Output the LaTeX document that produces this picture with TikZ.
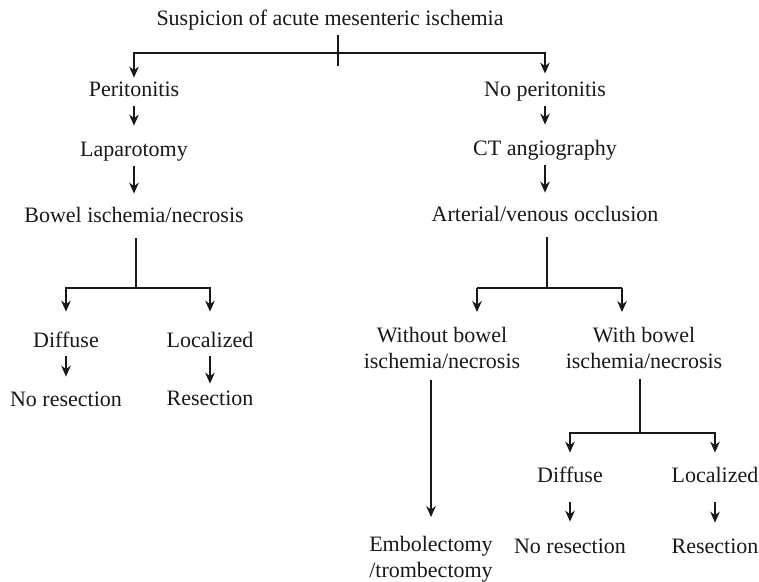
\documentclass[tikz,border=0pt]{standalone}
\usepackage{fontspec}
\setmainfont{Liberation Serif}
\usetikzlibrary{arrows.meta}

\begin{document}
\begin{tikzpicture}
        [x=0.5pt,y=-0.5pt,
        every node/.style={inner sep=2pt,font=\fontsize{11}{13}\selectfont,text=black!90},
        one-line/.style={anchor=base,text height=7.5pt,text depth=2.5pt},
        two-line/.style={anchor=north,align=center},
        line/.style={line width=0.6pt,black!90},
        arrow/.style={line,-{Stealth[length=5.5pt,width=4.8pt]}}
        ]
        \useasboundingbox (0, 0) rectangle (759, 582);
        \node[one-line] (node-0) at (330, 26) {Suspicion of acute mesenteric ischemia};
        \node[one-line] (node-1) at (134, 97) {Peritonitis};
        \node[one-line] (node-2) at (134, 157) {Laparotomy};
        \node[one-line] (node-3) at (134, 223) {Bowel ischemia/necrosis};
        \node[one-line] (node-4) at (66, 347) {Diffuse};
        \node[one-line] (node-5) at (66, 406) {No resection};
        \node[one-line] (node-6) at (210, 347) {Localized};
        \node[one-line] (node-7) at (210, 405) {Resection};
        \node[one-line] (node-8) at (545, 97) {No peritonitis};
        \node[one-line] (node-9) at (545, 156) {CT angiography};
        \node[one-line] (node-10) at (545, 222) {Arterial/venous occlusion};
        \node[two-line] (node-11) at (442, 323) {Without bowel\\ischemia/necrosis};
        \node[two-line] (node-12) at (644, 323) {With bowel\\ischemia/necrosis};
        \node[two-line] (node-13) at (431, 532) {Embolectomy\\/trombectomy};
        \node[one-line] (node-14) at (570, 482) {Diffuse};
        \node[one-line] (node-15) at (570, 553) {No resection};
        \node[one-line] (node-16) at (715, 482) {Localized};
        \node[one-line] (node-17) at (715, 553) {Resection};
        \coordinate (split-0) at (338, 53);
        \coordinate (split-1) at (136, 288);
        \coordinate (split-2) at (547, 288);
        \coordinate (split-2-l) at (477, 288);
        \coordinate (split-2-r) at (622, 288);
        \coordinate (split-3) at (640, 433);
        \draw[line] (node-0.south -| split-0) -- ++(0, 31);
        \draw[arrow] (split-0) -| (node-1.north);
        \draw[arrow,shorten >=2pt] (split-0) -| (node-8.north);
        \draw[arrow,shorten >=6pt] (node-1) -- (node-2);
        \draw[arrow,shorten >=5pt] (node-2) -- (node-3);
        \draw[line,shorten <=3pt] (node-3.south -| split-1) -- (split-1);
        \draw[arrow,shorten >=8pt] (split-1) -| (node-4.north);
        \draw[arrow,shorten >=8pt] (split-1) -| (node-6.north);
        \draw[arrow,shorten >=5pt] (node-4) -- (node-5);
        \draw[arrow,shorten >=1pt] (node-6) -- (node-7);
        \draw[arrow,shorten >=6pt] (node-8) -- (node-9);
        \draw[arrow,shorten >=5pt] (node-9) -- (node-10);
        \draw[line,shorten <=3pt] (node-10.south -| split-2) -- (split-2);
        \draw[line] (split-2-l) -- (split-2-r);
        \draw[arrow,shorten >=5.5pt] (split-2-l) -- (split-2-l |- node-11.north);
        \draw[arrow,shorten >=5.5pt] (split-2-r) -- (split-2-r |- node-12.north);
        \draw[arrow,shorten <=3.5pt,shorten >=7.5pt] (node-11.south -| node-13) -- (node-13);
        \draw[line,shorten <=3pt] (node-12.south -| split-3) -- (split-3);
        \draw[arrow,shorten >=5pt] (split-3) -| (node-14.north);
        \draw[arrow,shorten >=5pt] (split-3) -| (node-16.north);
        \draw[arrow,shorten <=5.5pt,shorten >=6pt] (node-14) -- (node-15);
        \draw[arrow,shorten <=5.5pt,shorten >=5.5pt] (node-16) -- (node-17);
    \end{tikzpicture}
\end{document}
